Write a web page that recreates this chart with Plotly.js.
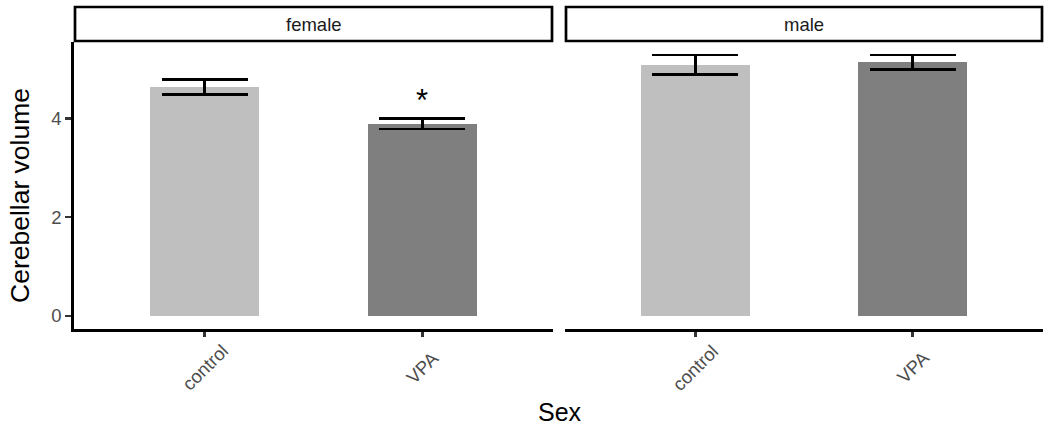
<!DOCTYPE html>
<html><head><meta charset="utf-8">
<script src="https://cdn.plot.ly/plotly-3.0.1.min.js"></script>
<style>html,body{margin:0;padding:0;background:#fff}#chart{width:1050px;height:425px}</style>
</head><body><div id="chart"></div>
<script>
const groups = ["control", "VPA"];
const panels = ["female", "male"];
const femaleMean = [4.64, 3.89];
const femaleSE = [0.155, 0.105];
const maleMean = [5.09, 5.14];
const maleSE = [0.195, 0.15];
const barColors = ["#bfbfbf", "#7f7f7f"];
const yTicks = [0, 2, 4];

const W = 1050, H = 425;
const px = v => v / W, py = v => 1 - v / H;
const FONT = "Liberation Sans, Arial, sans-serif";

function barTrace(mean, se, xa, ya) {
  return {
    type: "bar", x: groups, y: mean, xaxis: xa, yaxis: ya, width: 0.5,
    marker: {color: barColors, line: {width: 0}},
    error_y: {type: "data", array: se, visible: true, color: "#000", thickness: 2.6, width: 43},
    hoverinfo: "skip", showlegend: false
  };
}

const xCommon = {
  type: "category", range: [-0.6, 1.6], showline: true, linecolor: "#000", linewidth: 2.8,
  ticks: "outside", ticklen: 5, tickwidth: 2.4, tickcolor: "#333", showticklabels: false,
  showgrid: false, zeroline: false, fixedrange: true
};
const yRange = [-0.264, 5.55];
const yDom = [py(329), py(42)];

const annotations = [
  {xref: "paper", yref: "paper", x: px(313.5), y: py(24), text: panels[0], showarrow: false,
    font: {family: FONT, size: 18.5, color: "#1a1a1a"}, xanchor: "center", yanchor: "middle"},
  {xref: "paper", yref: "paper", x: px(804), y: py(24), text: panels[1], showarrow: false,
    font: {family: FONT, size: 18.5, color: "#1a1a1a"}, xanchor: "center", yanchor: "middle"},
  {xref: "x", yref: "y", x: groups[1], y: 4.36, text: "*", showarrow: false,
    font: {family: FONT, size: 31, color: "#000"}, xanchor: "center", yanchor: "middle"},
  {xref: "paper", yref: "paper", x: px(20), y: py(196), text: "Cerebellar volume", textangle: -90, showarrow: false,
    font: {family: FONT, size: 26.5, color: "#000"}, xanchor: "center", yanchor: "middle"},
  {xref: "paper", yref: "paper", x: px(559.5), y: py(412), text: "Sex", showarrow: false,
    font: {family: FONT, size: 25, color: "#000"}, xanchor: "center", yanchor: "middle"}
];
["x", "x2"].forEach(xa => groups.forEach(g => annotations.push({
  xref: xa, yref: "paper", x: g, y: py(367), text: g, textangle: -45, showarrow: false,
  font: {family: FONT, size: 18.5, color: "#4d4d4d"}, xanchor: "center", yanchor: "middle"
})));

const layout = {
  width: W, height: H, margin: {l: 0, r: 0, t: 0, b: 0},
  paper_bgcolor: "#fff", plot_bgcolor: "#fff", bargap: 0,
  font: {family: FONT},
  xaxis: Object.assign({}, xCommon, {domain: [px(74), px(553)], anchor: "y"}),
  xaxis2: Object.assign({}, xCommon, {domain: [px(565), px(1043)], anchor: "y2"}),
  yaxis: {domain: yDom, range: yRange, anchor: "x", showline: true, linecolor: "#000", linewidth: 2.8,
    ticks: "outside", ticklen: 6, tickwidth: 2.4, tickcolor: "#333", tickvals: yTicks,
    tickfont: {family: FONT, size: 18.5, color: "#4d4d4d"}, showgrid: false, zeroline: false, fixedrange: true},
  yaxis2: {domain: yDom, range: yRange, anchor: "x2", showline: false, showticklabels: false, ticks: "",
    showgrid: false, zeroline: false, fixedrange: true},
  shapes: [
    {type: "rect", xref: "paper", yref: "paper", x0: px(75), x1: px(552), y0: py(41), y1: py(7),
      line: {color: "#000", width: 2.7}, fillcolor: "#fff"},
    {type: "rect", xref: "paper", yref: "paper", x0: px(566), x1: px(1042), y0: py(41), y1: py(7),
      line: {color: "#000", width: 2.7}, fillcolor: "#fff"}
  ],
  annotations: annotations
};

Plotly.newPlot("chart", [barTrace(femaleMean, femaleSE, "x", "y"), barTrace(maleMean, maleSE, "x2", "y2")],
  layout, {staticPlot: true, displayModeBar: false});
</script></body></html>
